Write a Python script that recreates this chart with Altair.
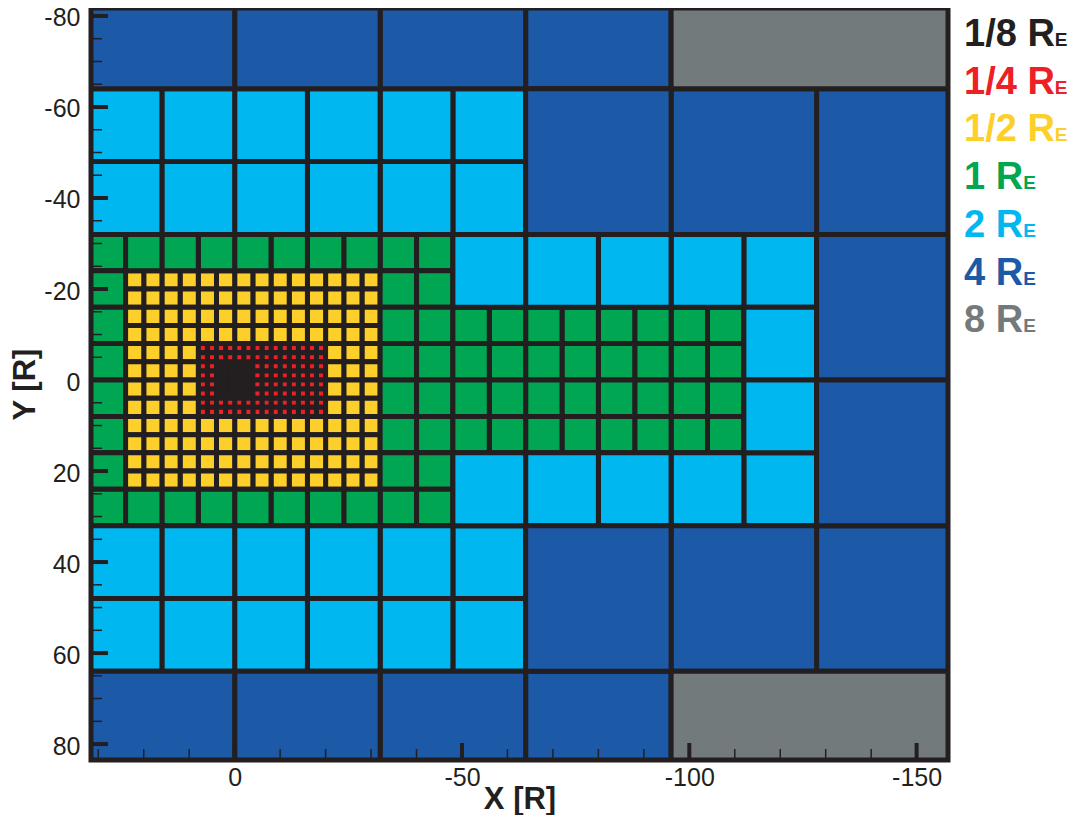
import altair as alt
import pandas as pd

# ---------------- data ----------------
levels = ["1/8", "1/4", "1/2", "1", "2", "4", "8"]
cell_sizes = [1, 2, 4, 8, 16, 32, 64]
level_colors = ["#231f20", "#ed2027", "#fdcf2a", "#00a651", "#00b7ef", "#1c59a6", "#737a7c"]

# refinement regions (level, x from -> to, y from -> to), in R
region_level = ["1/8", "1/4", "1/2", "1", "1",
                "2", "2", "2", "2", "2",
                "4", "4", "4", "4", "4",
                "8", "8"]
region_x0 = [4, 8, 24, 32, -48,
             32, 32, -48, -48, -112,
             32, 32, -64, -64, -128,
             -96, -96]
region_x1 = [-4, -20, -32, -48, -112,
             -64, -64, -128, -128, -128,
             -96, -96, -160, -160, -160,
             -160, -160]
region_y0 = [-4, -8, -24, -32, -16,
             -64, 32, -32, 16, -16,
             -96, 64, -64, 32, -32,
             -128, 64]
region_y1 = [4, 8, 24, 32, 16,
             -32, 64, -16, 32, 16,
             -64, 96, -32, 64, 32,
             -64, 128]

x_major_ticks = [0, -50, -100, -150]
x_minor_ticks = [30, 20, 10, -10, -20, -30, -40, -60, -70, -80, -90,
                 -110, -120, -130, -140]
y_major_ticks = [-80, -60, -40, -20, 0, 20, 40, 60, 80]
y_minor_ticks = [-75, -70, -65, -55, -50, -45, -35, -30, -25, -15, -10, -5,
                 5, 10, 15, 25, 30, 35, 45, 50, 55, 65, 70, 75]

legend_labels = ["1/8 R", "1/4 R", "1/2 R", "1 R", "2 R", "4 R", "8 R"]
legend_colors = level_colors

# ---------------- build grid blocks ----------------
size_of = dict(zip(levels, cell_sizes))
regions = list(zip(region_level, region_x0, region_x1, region_y0, region_y1))


def inside(px, py, r):
    _, a, b, c, d = r
    return min(a, b) < px < max(a, b) and min(c, d) < py < max(c, d)


rows = []
for r in regions:
    lev, a, b, c, d = r
    s = size_of[lev]
    xlo, xhi = min(a, b), max(a, b)
    ylo, yhi = min(c, d), max(c, d)
    finer = [q for q in regions if size_of[q[0]] < s]
    x = xlo
    while x < xhi:
        y = ylo
        while y < yhi:
            cx, cy = x + s / 2, y + s / 2
            if not any(inside(cx, cy, q) for q in finer):
                rows.append({"level": lev, "x0": x, "x1": x + s, "y0": y, "y1": y + s})
            y += s
        x += s
cells = pd.DataFrame(rows)

# ---------------- layout ----------------
W, H = 857, 752
INK = "#231f20"
FONT = "Liberation Sans"

xs = alt.Scale(domain=[-156.9, 31.6], reverse=True, nice=False, zero=False)
ys = alt.Scale(domain=[-81.75, 83.5], reverse=True, nice=False, zero=False)

x_axis = alt.Axis(values=x_major_ticks, ticks=False, tickSize=0, domain=False, grid=False,
                  labelFontSize=25, labelFont=FONT, labelColor=INK, labelPadding=5,
                  labelExpr="'' + datum.value", labelFlush=False, labelOverlap=False,
                  titleFontSize=31, titleFont=FONT, titleFontWeight="bold", titleColor=INK,
                  titlePadding=-6)
y_axis = alt.Axis(values=y_major_ticks, ticks=False, tickSize=0, domain=False, grid=False,
                  labelFontSize=25, labelFont=FONT, labelColor=INK, labelPadding=11,
                  labelOffset=2, labelExpr="'' + datum.value", labelFlush=False,
                  labelOverlap=False,
                  titleFontSize=31, titleFont=FONT, titleFontWeight="bold", titleColor=INK,
                  titlePadding=2)


def X(f):
    return alt.X(f, scale=xs, axis=x_axis, title="X [R]")


def Y(f):
    return alt.Y(f, scale=ys, axis=y_axis, title="Y [R]")


grid = alt.Chart(cells).mark_rect(clip=True, stroke=INK, strokeWidth=5).encode(
    x=X("x0:Q"), x2="x1:Q", y=Y("y0:Q"), y2="y1:Q",
    color=alt.Color("level:N", scale=alt.Scale(domain=levels, range=level_colors), legend=None),
)

frame = alt.Chart(pd.DataFrame({"k": [0]})).mark_rect(
    fill="transparent", stroke=INK, strokeWidth=5
).encode(x=alt.value(0), x2=alt.value(W), y=alt.value(0), y2=alt.value(H))

xt_major = alt.Chart(pd.DataFrame({"v": x_major_ticks})).mark_rule(color=INK, strokeWidth=4).encode(
    x=X("v:Q"), y=alt.value(H), y2=alt.value(H - 17))
xt_minor = alt.Chart(pd.DataFrame({"v": x_minor_ticks})).mark_rule(color=INK, strokeWidth=1.5).encode(
    x=X("v:Q"), y=alt.value(H), y2=alt.value(H - 11))
yt_major = alt.Chart(pd.DataFrame({"v": y_major_ticks})).mark_rule(color=INK, strokeWidth=4).encode(
    y=Y("v:Q"), x=alt.value(0), x2=alt.value(17))
yt_minor = alt.Chart(pd.DataFrame({"v": y_minor_ticks})).mark_rule(color=INK, strokeWidth=1.5).encode(
    y=Y("v:Q"), x=alt.value(0), x2=alt.value(11))

# legend text (main label + small "E")
MAIN_FS, SUB_FS = 38, 19
adv = {"1": 0.556, "2": 0.556, "4": 0.556, "8": 0.556, "/": 0.278, " ": 0.278, "R": 0.722}
LEG_X, LEG_Y0, LEG_DY = 873, 38, 47.7
leg = pd.DataFrame({
    "label": legend_labels,
    "color": legend_colors,
    "px": [LEG_X] * len(legend_labels),
    "py": [LEG_Y0 + LEG_DY * i for i in range(len(legend_labels))],
    "ex": [LEG_X + MAIN_FS * sum(adv[ch] for ch in t) for t in legend_labels],
    "sub": ["E"] * len(legend_labels),
})
leg_main = alt.Chart(leg).mark_text(align="left", baseline="alphabetic", fontSize=MAIN_FS,
                                    fontWeight="bold", font=FONT).encode(
    x=alt.X("px:Q", scale=None), y=alt.Y("py:Q", scale=None),
    text="label:N", color=alt.Color("color:N", scale=None))
leg_sub = alt.Chart(leg).mark_text(align="left", baseline="alphabetic", fontSize=SUB_FS,
                                   fontWeight="bold", font=FONT).encode(
    x=alt.X("ex:Q", scale=None), y=alt.Y("py:Q", scale=None),
    text="sub:N", color=alt.Color("color:N", scale=None))

chart = alt.layer(grid, xt_minor, yt_minor, xt_major, yt_major, frame, leg_main, leg_sub).properties(
    width=W, height=H,
    autosize=alt.AutoSizeParams(type="none"),
    padding={"left": 83, "top": 0, "right": 128, "bottom": 55},
).configure_view(stroke="transparent")

chart.save("out.html", embed_options={"renderer": "svg", "actions": False})
